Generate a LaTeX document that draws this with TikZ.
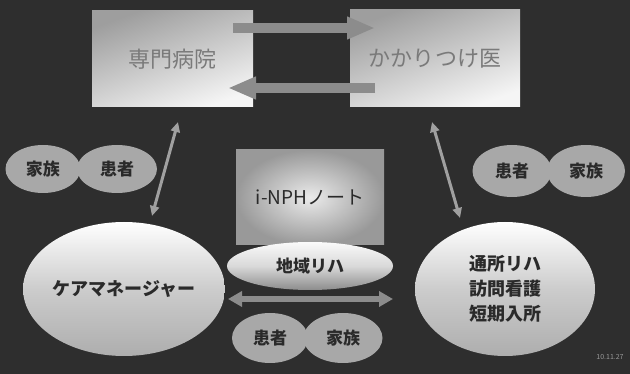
\documentclass[tikz,border=0pt]{standalone}
\usepackage{fontspec}
\setmainfont{Noto Sans CJK JP}
\usetikzlibrary{shapes.geometric,arrows.meta}
\definecolor{bg}{HTML}{2E2E2E}
\definecolor{arrowgray}{HTML}{8C8C8C}
\definecolor{thingray}{HTML}{A0A0A0}
\definecolor{pairgray}{HTML}{A8A8A8}
\definecolor{boxtext}{HTML}{7A7A7A}
\definecolor{darktext}{HTML}{2A2A2A}
\tikzset{
  hospbox/.style={rectangle, inner sep=0pt, shade, top color=white!62!black, bottom color=white!96!black, shading angle=20, text=boxtext, font=\fontsize{22}{24}\selectfont},
  notebox/.style={rectangle, inner sep=0pt, inner color=white!92!black, outer color=white!60!black, text=darktext, font=\fontsize{19}{22}\selectfont},
  bigoval/.style={ellipse, inner sep=0pt, top color=white, bottom color=white!68!black, middle color=white!80!black, text=darktext, font=\bfseries\fontsize{18}{25}\selectfont, align=center},
  chiiki/.style={ellipse, inner sep=0pt, top color=white!98!black, bottom color=white!55!black, middle color=white!85!black, text=darktext, font=\bfseries\fontsize{17}{20}\selectfont},
  pair/.style={ellipse, inner sep=0pt, fill=pairgray, text=darktext, font=\bfseries\fontsize{17}{20}\selectfont},
  blockarrow/.style={draw=arrowgray, line width=10pt, -{Triangle[width=21pt,length=28pt]}},
  thinarrow/.style={draw=thingray, line width=3pt, {Triangle[width=9pt,length=10pt]}-{Triangle[width=9pt,length=10pt]}},
  midarrow/.style={draw=arrowgray, line width=6pt, {Triangle[width=15pt,length=14pt]}-{Triangle[width=15pt,length=14pt]}}
}
\begin{document}
\begin{tikzpicture}[x=1pt,y=-1pt]
\fill[bg] (0,0) rectangle (630,374);
\useasboundingbox (0,0) rectangle (630,374);

% top boxes
\node[hospbox, minimum width=161pt, minimum height=96pt] (hosp) at (172.5,59) {専門病院};
\node[hospbox, minimum width=170pt, minimum height=97pt] (gp) at (435,58.5) {かかりつけ医};

% block arrows between boxes
\coordinate (r1) at (233,28);
\coordinate (r2) at (375,28);
\coordinate (l1) at (375,88);
\coordinate (l2) at (228,88);
\draw[blockarrow] (r1) -- (r2);
\draw[blockarrow] (l1) -- (l2);

% side pairs
\node[pair, minimum width=75pt, minimum height=48pt] (famL) at (43,169) {家族};
\node[pair, minimum width=80pt, minimum height=48pt] (patL) at (117,169) {患者};
\node[pair, minimum width=79pt, minimum height=52pt] (patR) at (512,171) {患者};
\node[pair, minimum width=78pt, minimum height=52pt] (famR) at (586,171) {家族};

% big ovals
\node[bigoval, minimum width=178pt, minimum height=134pt] (care) at (124,289) {ケアマネージャー};
\node[bigoval, minimum width=180pt, minimum height=134pt] (svc) at (505,289) {通所リハ\\訪問看護\\短期入所};

% note box and chiiki
\node[notebox, minimum width=148pt, minimum height=95pt] (note) at (310,197.5) {i-NPHノート};
\node[chiiki, minimum width=166pt, minimum height=48pt] (reha) at (310,266) {地域リハ};

% bottom pair
\node[pair, minimum width=76pt, minimum height=50pt] (patB) at (270,338) {患者};
\node[pair, minimum width=79pt, minimum height=50pt] (famB) at (343,338) {家族};

% thin arrows
\coordinate (lt) at (178,122);
\coordinate (lb) at (152,216);
\coordinate (rt) at (432,122);
\coordinate (rb) at (460,218);
\draw[thinarrow] (lt) -- (lb);
\draw[thinarrow] (rt) -- (rb);

% horizontal arrow
\coordinate (hl) at (228,299);
\coordinate (hr) at (393,299);
\draw[midarrow] (hl) -- (hr);

% date stamp
\node[text=white!60!black, font=\fontsize{7}{8}\selectfont] (date) at (610,357) {10.11.27};
\end{tikzpicture}
\end{document}
